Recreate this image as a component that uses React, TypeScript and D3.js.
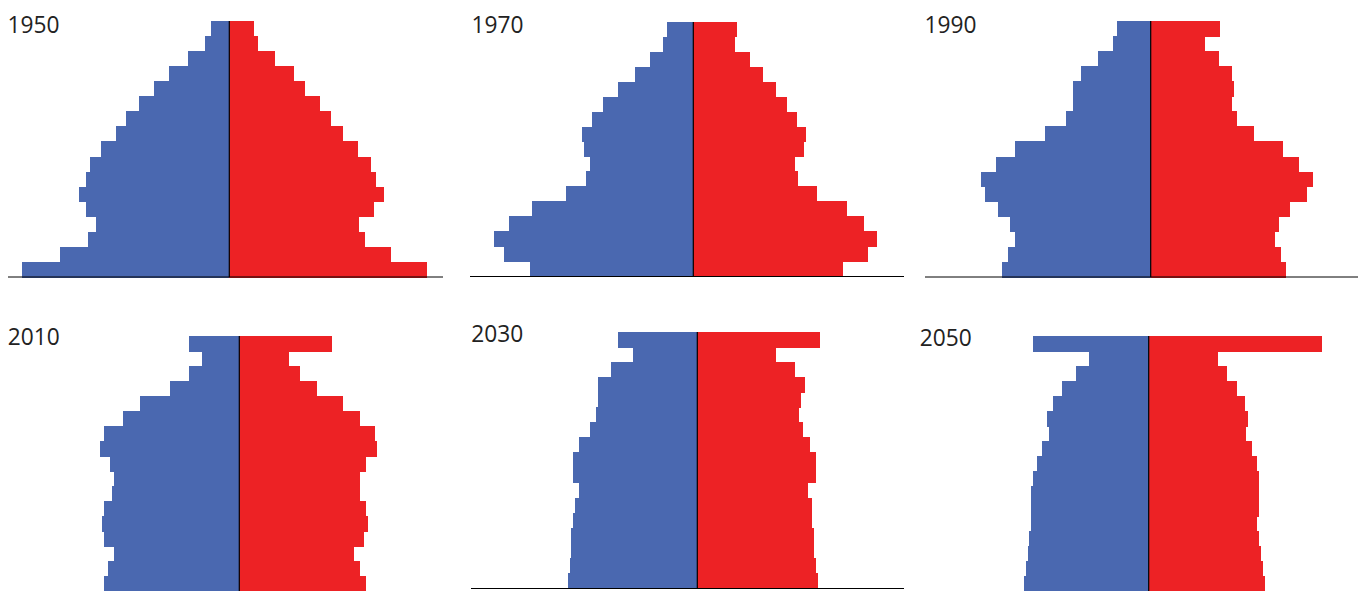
import React from "react";
import * as d3 from "d3";

// Age groups, oldest at the top
const ages = ["80+", "75-79", "70-74", "65-69", "60-64", "55-59", "50-54", "45-49", "40-44", "35-39", "30-34", "25-29", "20-24", "15-19", "10-14", "5-9", "0-4"];

const years = ["1950", "1970", "1990", "2010", "2030", "2050"];

// Population (relative units) per age group, top (80+) to bottom (0-4)
const male1950 = [18.3, 24.3, 41.3, 60.3, 75.3, 90.3, 103.3, 113.3, 128.3, 139.3, 143.3, 150.3, 143.3, 133.3, 141.3, 169.3, 207.3];
const female1950 = [24.7, 28.7, 45.7, 64.7, 75.7, 90.7, 101.7, 113.7, 128.7, 141.7, 146.7, 154.7, 144.7, 129.7, 135.7, 161.7, 197.7];

const male1970 = [26.3, 30.3, 43.3, 58.3, 75.3, 90.3, 101.3, 111.3, 109.3, 103.3, 107.3, 127.3, 161.3, 184.3, 199.3, 189.3, 163.3];
const female1970 = [43.7, 41.7, 56.7, 69.7, 82.7, 93.7, 103.7, 112.7, 110.7, 101.7, 104.7, 123.7, 153.7, 170.7, 183.7, 174.7, 149.7];

const male1990 = [33.7, 37.7, 52.7, 69.7, 77.7, 77.7, 84.7, 105.7, 135.7, 154.7, 169.7, 165.7, 152.7, 140.7, 135.7, 142.7, 148.7];
const female1990 = [69.3, 54.3, 68.3, 81.3, 83.3, 81.3, 86.3, 103.3, 132.3, 148.3, 162.3, 156.3, 139.3, 128.3, 124.3, 130.3, 135.3];

const male2010 = [50.3, 37.3, 50.3, 69.3, 99.3, 116.3, 135.3, 139.3, 129.3, 125.3, 127.3, 135.3, 137.3, 135.3, 125.3, 131.3, 135.3];
const female2010 = [92.7, 49.7, 60.7, 77.7, 103.7, 120.7, 135.7, 137.7, 126.7, 120.7, 120.7, 126.7, 128.7, 124.7, 114.7, 120.7, 126.7];

const male2030 = [79.3, 64.3, 86.3, 99.3, 99.3, 101.3, 107.3, 118.3, 124.3, 124.3, 118.3, 122.3, 124.3, 126.3, 126.3, 127.3, 129.3];
const female2030 = [122.7, 78.7, 97.7, 107.7, 103.7, 101.7, 105.7, 112.7, 118.7, 118.7, 110.7, 114.7, 114.7, 116.7, 116.7, 118.7, 120.7];

const male2050 = [115.7, 59.7, 72.7, 86.7, 95.7, 101.7, 99.7, 106.7, 111.7, 115.7, 117.7, 117.7, 117.7, 119.7, 120.7, 122.7, 124.7];
const female2050 = [173.3, 69.3, 78.3, 88.3, 96.3, 99.3, 97.3, 103.3, 108.3, 110.3, 110.3, 110.3, 108.3, 110.3, 112.3, 114.3, 116.3];

const maleSeries = [male1950, male1970, male1990, male2010, male2030, male2050];
const femaleSeries = [female1950, female1970, female1990, female2010, female2030, female2050];

// Panel layout (pixels)
const layout = [
  { x0: 8, x1: 443, cx: 229.3, top: 21, bottom: 277, base: 277, tx: 7.6, ty: 33 },
  { x0: 470, x1: 904, cx: 693.3, top: 22, bottom: 276, base: 276.5, tx: 471.6, ty: 33 },
  { x0: 925, x1: 1358, cx: 1150.7, top: 21, bottom: 277, base: 277, tx: 924.6, ty: 33 },
  { x0: 8, x1: 443, cx: 239.3, top: 336, bottom: 591, base: 591.5, tx: 7.8, ty: 345 },
  { x0: 471, x1: 904, cx: 697.3, top: 332, bottom: 588, base: 588.5, tx: 471.3, ty: 342 },
  { x0: 925, x1: 1358, cx: 1148.7, top: 336, bottom: 591, base: 591.5, tx: 919.8, ty: 346 },
];

const BLUE = "#4a68b0";
const RED = "#ed2225";

function Pyramid({ i }: { i: number }) {
  const L = layout[i];
  const x = d3.scaleLinear().domain([-(L.cx - L.x0), L.x1 - L.cx]).range([L.x0, L.x1]);
  const y = d3.scaleBand<string>().domain(ages).range([L.top, L.bottom]).padding(0);
  const m = maleSeries[i];
  const f = femaleSeries[i];
  return (
    <g>
      <g shapeRendering="crispEdges">
        {ages.map((a, k) => (
          <rect key={"m" + a} x={x(-m[k])} y={y(a)} width={x(0) - x(-m[k])} height={y.bandwidth() + 0.5} fill={BLUE} />
        ))}
        {ages.map((a, k) => (
          <rect key={"f" + a} x={x(0)} y={y(a)} width={x(f[k]) - x(0)} height={y.bandwidth() + 0.5} fill={RED} />
        ))}
      </g>
      <line x1={L.x0} x2={L.x1} y1={L.base} y2={L.base} stroke="#000" strokeWidth={1} />
      <line x1={x(0)} x2={x(0)} y1={L.top} y2={L.bottom} stroke="#000" strokeWidth={1.2} />
      <text x={L.tx} y={L.ty} fontFamily="'Open Sans', 'Noto Sans', sans-serif" fontSize={24.5} fill="#222" textLength={52} lengthAdjust="spacingAndGlyphs">
        {years[i]}
      </text>
    </g>
  );
}

export default function App() {
  return (
    <svg width={1360} height={591} style={{ position: "absolute", left: 0, top: 0, display: "block" }}>
      <rect x={0} y={0} width={1360} height={591} fill="#fff" />
      {years.map((yr, i) => (
        <Pyramid key={yr} i={i} />
      ))}
    </svg>
  );
}
